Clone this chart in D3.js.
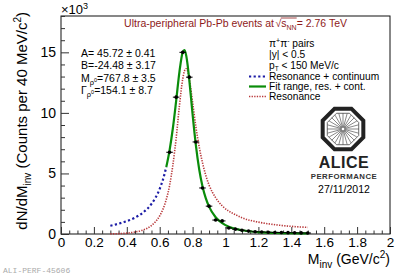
<!DOCTYPE html>
<html><head><meta charset="utf-8">
<script src="https://cdn.jsdelivr.net/npm/d3@7"></script>
<style>body{margin:0;background:#fff}svg{display:block;font-family:"Liberation Sans",Arial,sans-serif}</style>
</head><body><svg id="c" width="407" height="276"></svg>
<script>
// ---- data (x 10^3 counts per 40 MeV/c^2) ----
const massGrid  = [0.30,0.35,0.40,0.45,0.50,0.55,0.60,0.62,0.64,0.66,0.68,0.70,0.72,0.74,0.75,0.76,0.77,0.78,0.80,0.82,0.84,0.86,0.88,0.90,0.94,0.98,1.02,1.06,1.10,1.20,1.30,1.40,1.50];
const fitTotal  = [0.68,0.85,1.06,1.35,1.79,2.48,3.73,4.50,5.53,6.91,8.73,10.99,13.39,15.02,15.19,14.81,13.93,12.71,9.87,7.31,5.35,3.95,2.96,2.26,1.38,0.89,0.60,0.42,0.31,0.15,0.09,0.06,0.055];
const resonance = [0.005,0.03,0.07,0.17,0.34,0.70,1.50,2.05,2.85,4.0,5.7,7.9,10.6,12.8,13.45,13.65,13.45,12.8,10.9,8.85,7.2,5.9,4.85,4.05,3.0,2.33,1.89,1.6,1.34,0.98,0.77,0.63,0.55];
const fitMin = 0.64;
const binCenters = [0.66,0.70,0.74,0.78,0.82,0.86,0.90,0.94,0.98,1.02,1.06,1.10,1.14,1.18,1.22,1.26,1.30,1.34,1.38,1.42,1.46,1.50];
const counts     = [6.75,11.3,15.0,12.95,7.6,3.8,2.3,1.15,1.08,0.50,0.40,0.31,0.24,0.19,0.17,0.15,0.13,0.12,0.11,0.10,0.09,0.08];
const countErr   = [0.15,0.2,0.2,0.2,0.15,0.1,0.08,0.06,0.06,0.04,0.04,0.03,0.03,0.03,0.03,0.02,0.02,0.02,0.02,0.02,0.02,0.02];
const binHalfWidth = 0.02;
const xTickValues = [0,0.2,0.4,0.6,0.8,1,1.2,1.4,1.6,1.8,2];
const yTickValues = [0,5,10,15];
const fitParamLabels = [
  [{t:"A= 45.72 ± 0.41"}],
  [{t:"B=-24.48 ± 3.17"}],
  [{t:"M"},{t:"ρ",s:3,f:7.5},{t:"0",s:0,f:5.5},{t:"=767.8 ± 3.5",s:0}],
  [{t:"Γ"},{t:"ρ",s:3,f:7.5},{t:"0",s:0,f:5.5},{t:"=154.1 ± 8.7",s:0}]
];
const legendLabels = ["Resonance + continuum","Fit range, res. + cont.","Resonance"];

// ---- layout ----
const L=61,R=390,T=16,B=234;
const x=d3.scaleLinear().domain([0,2]).range([L,R]);
const y=d3.scaleLinear().domain([0,18]).range([B,T]);
const svg=d3.select('#c');
const BLUE="#1c1ca6", GREEN="#0a8c0a", RED="#b8383a", TITLE="#8e1a1a";

function rich(sel, segs, base){
  let cur=0;
  segs.forEach(sg=>{
    const sh = sg.s===undefined?0:sg.s;
    sel.append('tspan').attr('dy',sh-cur).attr('font-size',sg.f||base).text(sg.t);
    cur=sh;
  });
  return sel;
}

// frame
svg.append('rect').attr('x',L).attr('y',T).attr('width',R-L).attr('height',B-T)
  .attr('fill','none').attr('stroke','#111').attr('stroke-width',1);

// minor ticks
const xMinor=d3.range(0,2.0001,0.05).filter(v=>Math.abs(v/0.2-Math.round(v/0.2))>1e-6);
svg.append('g').attr('transform',`translate(0,${B})`)
  .call(d3.axisBottom(x).tickValues(xMinor).tickSize(-3.5).tickFormat(''))
  .call(g=>{g.select('.domain').remove();g.selectAll('line').attr('stroke','#333');});
const yMinor=d3.range(0,18.001,1).filter(v=>v%5!==0);
svg.append('g').attr('transform',`translate(${L},0)`)
  .call(d3.axisLeft(y).tickValues(yMinor).tickSize(-4).tickFormat(''))
  .call(g=>{g.select('.domain').remove();g.selectAll('line').attr('stroke','#333');});
// major ticks + labels
svg.append('g').attr('transform',`translate(0,${B})`)
  .call(d3.axisBottom(x).tickValues(xTickValues).tickSize(-7).tickPadding(3).tickFormat(d=>d3.format('~g')(d)))
  .call(g=>{g.select('.domain').remove();g.selectAll('line').attr('stroke','#333');
    g.selectAll('text').attr('font-size',13.5).attr('fill','#000').attr('font-family','"Liberation Sans",Arial');});
svg.append('g').attr('transform',`translate(${L},0)`)
  .call(d3.axisLeft(y).tickValues(yTickValues).tickSize(-8).tickPadding(5).tickFormat(d=>d))
  .call(g=>{g.select('.domain').remove();g.selectAll('line').attr('stroke','#333');
    g.selectAll('text').attr('font-size',14).attr('fill','#000').attr('font-family','"Liberation Sans",Arial');});

// x10^3
rich(svg.append('text').attr('x',L).attr('y',14).attr('font-size',13),[{t:"×10"},{t:"3",s:-5,f:9}],13);

// axis titles
rich(svg.append('text').attr('transform',`translate(27,12) rotate(-90)`).attr('text-anchor','end').attr('font-size',15),
  [{t:"dN/dM"},{t:"inv",s:4,f:10},{t:" (Counts per 40 MeV/c",s:0},{t:"2",s:-6,f:10},{t:")",s:0}],15);
rich(svg.append('text').attr('x',R).attr('y',263.5).attr('text-anchor','end').attr('font-size',14),
  [{t:"M"},{t:"inv",s:4,f:10},{t:" (GeV/c",s:0},{t:"2",s:-6,f:10},{t:")",s:0}],14);

// curves
const line=d3.line().x(d=>x(d[0])).y(d=>y(d[1])).curve(d3.curveMonotoneX);
const tot=massGrid.map((m,i)=>[m,fitTotal[i]]);
const res=massGrid.map((m,i)=>[m,resonance[i]]);
svg.append('path').attr('d',line(res)).attr('fill','none').attr('stroke',RED).attr('stroke-width',1.6).attr('stroke-dasharray','1.3,1.3');
svg.append('path').attr('d',line(tot.filter(d=>d[0]<=fitMin+1e-9))).attr('fill','none').attr('stroke',BLUE).attr('stroke-width',2.2).attr('stroke-dasharray','2.2,2.4');
svg.append('path').attr('d',line(tot.filter(d=>d[0]>=fitMin-1e-9))).attr('fill','none').attr('stroke',GREEN).attr('stroke-width',2.2);

// data points
const pts=svg.append('g');
binCenters.forEach((m,i)=>{
  pts.append('line').attr('x1',x(m-binHalfWidth)).attr('x2',x(m+binHalfWidth)).attr('y1',y(counts[i])).attr('y2',y(counts[i])).attr('stroke','#000').attr('stroke-width',1);
  pts.append('line').attr('x1',x(m)).attr('x2',x(m)).attr('y1',y(counts[i]-countErr[i])-1).attr('y2',y(counts[i]+countErr[i])+1).attr('stroke','#000').attr('stroke-width',1);
  pts.append('circle').attr('cx',x(m)).attr('cy',y(counts[i])).attr('r',1.8).attr('fill','#000');
});

// title with sqrt(sNN)
(function(){
  const g=svg.append('g').attr('fill',TITLE).attr('font-size',10.5);
  const baseY=27;
  const t1=g.append('text').attr('y',baseY).text("Ultra-peripheral Pb-Pb events at ");
  const t2=g.append('text').attr('y',baseY).text("√");
  const t3=rich(g.append('text').attr('y',baseY),[{t:"s"},{t:"NN",s:2.5,f:7}],10.5);
  const t4=g.append('text').attr('y',baseY).text(" = 2.76 TeV");
  const w=[t1,t2,t3,t4].map(t=>t.node().getComputedTextLength());
  const gap=[1.5,0,0,0];
  let cx=347-w.reduce((a,b)=>a+b,0)-1.5;
  const xs=[];
  [t1,t2,t3,t4].forEach((t,i)=>{xs.push(cx);t.attr('x',cx);cx+=w[i]+gap[i];});
  g.append('line').attr('x1',xs[2]-0.5).attr('x2',xs[3]).attr('y1',baseY-9).attr('y2',baseY-9).attr('stroke',TITLE).attr('stroke-width',0.8);
})();

// fit parameters
fitParamLabels.forEach((segs,i)=>{
  rich(svg.append('text').attr('x',81).attr('y',57+i*12.3).attr('font-size',10.5).attr('fill','#000'),segs,10.5);
});

// info + legend
const info=svg.append('g').attr('font-size',10.2).attr('fill','#000');
rich(info.append('text').attr('x',269).attr('y',47),[{t:"π"},{t:"+",s:-4,f:7},{t:"π",s:0},{t:"-",s:-4,f:7},{t:" pairs",s:0}],10.2);
info.append('text').attr('x',269).attr('y',58).text("|y| < 0.5");
rich(info.append('text').attr('x',269).attr('y',68.5),[{t:"p"},{t:"T",s:2.5,f:6.5},{t:" < 150 MeV/c",s:0}],10.2);
const legY=[80,90,100];
const legStyle=[{c:BLUE,w:2.2,d:'2.2,2.4'},{c:GREEN,w:2.2,d:null},{c:RED,w:1.6,d:'1.3,1.3'}];
legendLabels.forEach((lab,i)=>{
  const ln=svg.append('line').attr('x1',249).attr('x2',266).attr('y1',legY[i]-3.5).attr('y2',legY[i]-3.5)
    .attr('stroke',legStyle[i].c).attr('stroke-width',legStyle[i].w);
  if(legStyle[i].d) ln.attr('stroke-dasharray',legStyle[i].d);
  info.append('text').attr('x',269).attr('y',legY[i]).text(lab);
});

// ALICE logo
(function(){
  const cx=343, cy=129, r=22;
  const g=svg.append('g');
  const oct=(rr)=>d3.range(8).map(k=>{const a=Math.PI/8+k*Math.PI/4;return [cx+rr*Math.cos(a),cy+rr*Math.sin(a)];});
  g.append('polygon').attr('points',oct(r).map(p=>p.join(',')).join(' ')).attr('fill','#fff').attr('stroke','#222').attr('stroke-width',4);
  g.append('polygon').attr('points',oct(r-5).map(p=>p.join(',')).join(' ')).attr('fill','none').attr('stroke','#444').attr('stroke-width',0.8);
  d3.range(24).forEach(k=>{const a=k*Math.PI/12;
    g.append('line').attr('x1',cx+1.5*Math.cos(a)).attr('y1',cy+1.5*Math.sin(a)).attr('x2',cx+16*Math.cos(a)).attr('y2',cy+16*Math.sin(a)).attr('stroke','#555').attr('stroke-width',0.7);});
  svg.append('text').attr('x',cx+1).attr('y',168).attr('text-anchor','middle').attr('font-size',16).attr('font-weight','bold').attr('fill','#222').attr('letter-spacing',0.5).text("ALICE");
  svg.append('text').attr('x',cx+1).attr('y',179).attr('text-anchor','middle').attr('font-size',7.8).attr('font-weight','bold').attr('fill','#333').attr('letter-spacing',0.5).text("PERFORMANCE");
  svg.append('text').attr('x',cx+1).attr('y',193).attr('text-anchor','middle').attr('font-size',10.5).attr('fill','#000').text("27/11/2012");
})();

// footer id
svg.append('text').attr('x',3).attr('y',273).attr('font-size',8).attr('font-family','"Liberation Mono",monospace').attr('fill','#aaa').text("ALI-PERF-45606");
</script></body></html>
